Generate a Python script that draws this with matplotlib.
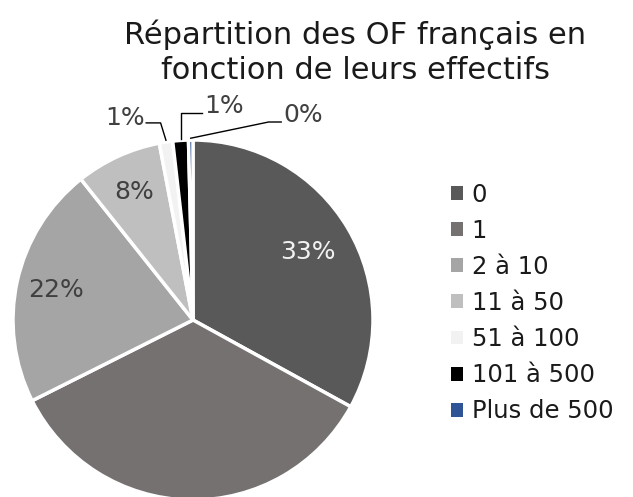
import numpy as np
import matplotlib
matplotlib.use("Agg")
import matplotlib.pyplot as plt
from matplotlib.patches import Patch

categories = ["0", "1", "2 à 10", "11 à 50", "51 à 100", "101 à 500", "Plus de 500"]
values = [33.0, 34.6, 21.7, 7.7, 1.2, 1.4, 0.4]
colors = ["#595959", "#757171", "#A5A5A5", "#BFBFBF", "#F2F2F2", "#000000", "#2F5597"]
title = "Répartition des OF français en\nfonction de leurs effectifs"

plt.rcParams['font.family'] = ['DejaVu Sans']
fig = plt.figure(figsize=(6.33, 4.97), dpi=100)
W, H = 633, 497
cx, cy, R = 193, 320, 180
ax = fig.add_axes([(cx - R) / W, (H - cy - R) / H, 2 * R / W, 2 * R / H])
ax.axis('off')

wedges, _ = ax.pie(values, colors=colors, startangle=90, counterclock=False,
                   radius=1.0, wedgeprops=dict(edgecolor='white', linewidth=2.5))
for w in wedges:
    w.set_clip_on(False)
ax.set_xlim(-1, 1)
ax.set_ylim(-1, 1)
ax.set_aspect('equal')

total = sum(values)
pcts = [f"{round(v / total * 100):d}%" for v in values]
mids = [np.deg2rad((w.theta1 + w.theta2) / 2) for w in wedges]

fs = 18
# inside labels
inside = {0: (0.74, "#F2F2F2"), 2: (0.78, "#404040"), 3: (0.78, "#404040")}
for i, (r, col) in inside.items():
    ax.text(r * np.cos(mids[i]), r * np.sin(mids[i]), pcts[i], ha='center', va='center',
            fontsize=fs, color=col)

# outside labels with leader lines
outside = {4: ((-0.38, 1.125), 'right'), 5: ((0.17, 1.19), 'left'), 6: ((0.61, 1.14), 'left')}
for i, ((tx, ty), side) in outside.items():
    ax.text(tx, ty, pcts[i], ha='center', va='center', fontsize=fs, color="#404040",
            clip_on=False)
    px, py = np.cos(mids[i]) * 1.0, np.sin(mids[i]) * 1.0
    if side == 'right':
        x0 = tx + 0.12
        elbow = (x0 + 0.08, ty - 0.03)
        pts = [(x0, ty - 0.03), elbow, (px, py + 0.01)]
    else:
        x0 = tx - 0.12
        if i == 5:
            elbow = (px, ty - 0.04)
        else:
            elbow = (x0 - 0.07, ty - 0.04)
        pts = [(x0, ty - 0.04), elbow, (px, py + 0.01)]
    xs, ys = zip(*pts)
    ax.plot(xs, ys, color='black', lw=1.0, clip_on=False)

fig.text(355 / W, 1 - 52 / H, title, ha='center', va='center', fontsize=22,
         color='#1a1a1a', linespacing=1.28)

handles = [Patch(facecolor=c, edgecolor='none') for c in colors]
fig.legend(handles, categories, loc='center left', bbox_to_anchor=(429 / W, 1 - 303 / H),
           frameon=False, fontsize=17.5, handlelength=0.5, handleheight=0.5,
           handletextpad=0.35, labelspacing=0.5, labelcolor='#1a1a1a')

fig.savefig("out.png", dpi=100, facecolor='white')
